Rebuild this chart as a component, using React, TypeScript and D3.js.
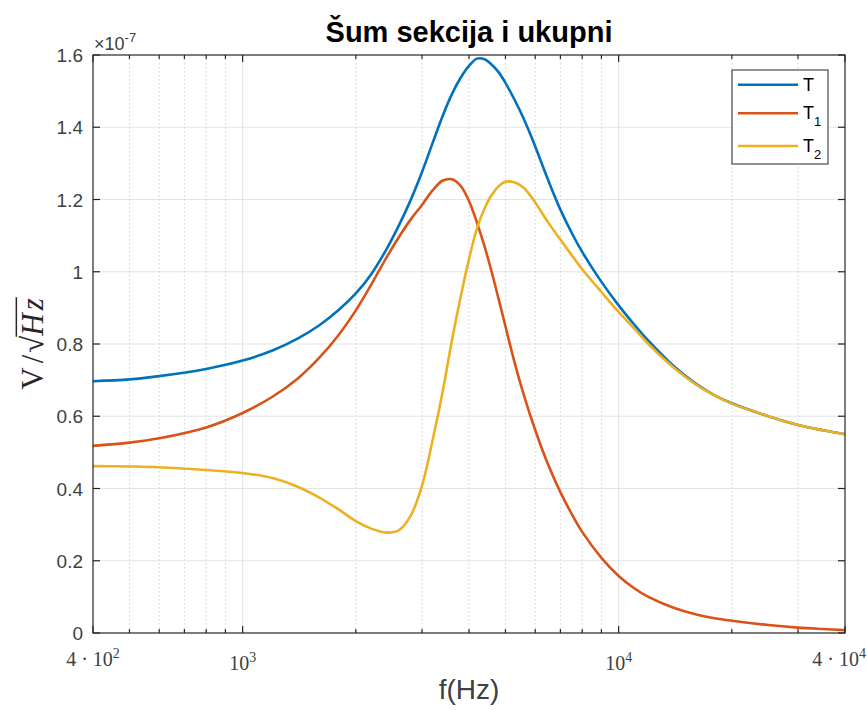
import React, { useLayoutEffect, useRef, useState } from "react";
import * as d3 from "d3";

const freqs = [400, 500, 600, 800, 1000, 1200, 1400, 1600, 1800, 2000, 2200, 2400, 2600, 2800, 3000, 3200, 3400, 3600, 3800, 4000, 4200, 4400, 4600, 4800, 5000, 5300, 5600, 6000, 6500, 7000, 7500, 8000, 9000, 10000, 11000, 12000, 14000, 16000, 18000, 20000, 25000, 30000, 35000, 40000];

const T = [0.697, 0.702, 0.711, 0.731, 0.754, 0.782, 0.815, 0.852, 0.894, 0.94, 0.994, 1.058, 1.127, 1.199, 1.276, 1.356, 1.43, 1.491, 1.537, 1.57, 1.59, 1.588, 1.573, 1.552, 1.523, 1.474, 1.422, 1.347, 1.253, 1.172, 1.108, 1.055, 0.972, 0.907, 0.854, 0.809, 0.739, 0.691, 0.658, 0.636, 0.6, 0.576, 0.561, 0.55];

const T1 = [0.518, 0.527, 0.539, 0.569, 0.609, 0.654, 0.704, 0.762, 0.825, 0.893, 0.965, 1.035, 1.095, 1.145, 1.185, 1.225, 1.252, 1.256, 1.238, 1.196, 1.136, 1.07, 0.998, 0.923, 0.849, 0.745, 0.658, 0.562, 0.465, 0.39, 0.33, 0.28, 0.208, 0.158, 0.124, 0.1, 0.07, 0.052, 0.041, 0.034, 0.022, 0.015, 0.011, 0.008];

const T2 = [0.462, 0.461, 0.459, 0.451, 0.443, 0.429, 0.405, 0.375, 0.342, 0.31, 0.289, 0.278, 0.284, 0.325, 0.408, 0.533, 0.665, 0.808, 0.93, 1.035, 1.12, 1.175, 1.213, 1.237, 1.249, 1.247, 1.232, 1.192, 1.136, 1.089, 1.046, 1.007, 0.944, 0.889, 0.843, 0.8, 0.735, 0.689, 0.657, 0.635, 0.6, 0.576, 0.561, 0.55];

const yTicks = [0, 0.2, 0.4, 0.6, 0.8, 1, 1.2, 1.4, 1.6];
const yTickLabels = ["0", "0.2", "0.4", "0.6", "0.8", "1", "1.2", "1.4", "1.6"];
const xMajor = [400, 1000, 10000, 40000];
const xMinor = [500, 600, 700, 800, 900, 2000, 3000, 4000, 5000, 6000, 7000, 8000, 9000, 20000, 30000];

const seriesNames = ["T", "T1", "T2"];
const colors = ["#0072BD", "#D95319", "#EDB120"];

const W = 867, H = 710;
const L = 93, R = 845, TOP = 55, B = 633;

export default function App() {
  const x = d3.scaleLog().domain([400, 40000]).range([L, R]);
  const y = d3.scaleLinear().domain([0, 1.6]).range([B, TOP]);
  const series = [T, T1, T2];
  const line = d3
    .line<number>()
    .x((_, i) => x(freqs[i]))
    .y((d) => y(d))
    .curve(d3.curveCatmullRom.alpha(0.5));

  const axisColor = "#262626";
  const tickColor = "#404040";
  const serif = "'Liberation Serif', 'DejaVu Serif', serif";
  const sans = "'Liberation Sans', Arial, Helvetica, sans-serif";

  const legendX = 732, legendY = 70, legendW = 96, legendH = 94;
  const legendRows = [84.7, 113.3, 146];

  const labelRef = useRef<SVGTextElement>(null);
  const [bar, setBar] = useState<{ x1: number; x2: number } | null>(null);
  const labelSize = 31;
  useLayoutEffect(() => {
    const t = labelRef.current;
    if (!t) return;
    try {
      const n = t.getNumberOfChars();
      const sq = t.getExtentOfChar(2);
      const last = t.getExtentOfChar(n - 1);
      setBar({ x1: sq.x + sq.width - 1, x2: last.x + last.width + 1 });
    } catch (e) {
      setBar(null);
    }
  }, []);

  return (
    <svg width={W} height={H} style={{ position: "absolute", left: 0, top: 0, background: "#fff" }}>
      <rect x={0} y={0} width={W} height={H} fill="#fff" />
      {/* grid */}
      {yTicks.slice(1, -1).map((t) => (
        <line key={"gy" + t} x1={L} x2={R} y1={y(t)} y2={y(t)} stroke="#e3e3e3" strokeWidth={1} />
      ))}
      {xMinor.map((f) => (
        <line key={"gmx" + f} x1={x(f)} x2={x(f)} y1={TOP} y2={B} stroke="#cfcfcf" strokeWidth={1} strokeDasharray="1.5,2.5" />
      ))}
      {[1000, 10000].map((f) => (
        <line key={"gx" + f} x1={x(f)} x2={x(f)} y1={TOP} y2={B} stroke="#e0e0e0" strokeWidth={1} />
      ))}
      {/* lines */}
      <defs>
        <clipPath id="clip">
          <rect x={L} y={TOP - 3} width={R - L + 1} height={B - TOP + 4} />
        </clipPath>
      </defs>
      <g clipPath="url(#clip)">
        {series.map((s, i) => (
          <path key={seriesNames[i]} d={line(s) || ""} fill="none" stroke={colors[i]} strokeWidth={2.6} strokeLinejoin="round" />
        ))}
      </g>
      {/* axes box */}
      <rect x={L} y={TOP} width={R - L} height={B - TOP} fill="none" stroke={axisColor} strokeWidth={1.2} />
      {/* y ticks */}
      {yTicks.map((t, i) => (
        <g key={"yt" + t}>
          <line x1={L} x2={L + 7} y1={y(t)} y2={y(t)} stroke={axisColor} strokeWidth={1.2} />
          <line x1={R} x2={R - 7} y1={y(t)} y2={y(t)} stroke={axisColor} strokeWidth={1.2} />
          <text x={L - 10} y={y(t) + 7} textAnchor="end" fontFamily={sans} fontSize={19} fill={tickColor}>
            {yTickLabels[i]}
          </text>
        </g>
      ))}
      {/* x ticks */}
      {xMajor.map((f) => (
        <g key={"xt" + f}>
          <line x1={x(f)} x2={x(f)} y1={B} y2={B - 7} stroke={axisColor} strokeWidth={1.2} />
          <line x1={x(f)} x2={x(f)} y1={TOP} y2={TOP + 7} stroke={axisColor} strokeWidth={1.2} />
        </g>
      ))}
      {xMinor.map((f) => (
        <g key={"xm" + f}>
          <line x1={x(f)} x2={x(f)} y1={B} y2={B - 4} stroke={axisColor} strokeWidth={1.2} />
          <line x1={x(f)} x2={x(f)} y1={TOP} y2={TOP + 4} stroke={axisColor} strokeWidth={1.2} />
        </g>
      ))}
      {/* x tick labels */}
      <text x={x(400)} y={666} textAnchor="middle" fontFamily={serif} fontSize={20} fill={tickColor}>
        4 · 10<tspan fontSize={14} dy={-8}>2</tspan>
      </text>
      <text x={x(1000)} y={670} textAnchor="middle" fontFamily={serif} fontSize={20} fill={tickColor}>
        10<tspan fontSize={14} dy={-8}>3</tspan>
      </text>
      <text x={x(10000)} y={670} textAnchor="middle" fontFamily={serif} fontSize={20} fill={tickColor}>
        10<tspan fontSize={14} dy={-8}>4</tspan>
      </text>
      <text x={866} y={666} textAnchor="end" fontFamily={serif} fontSize={20} fill={tickColor}>
        4 · 10<tspan fontSize={14} dy={-8}>4</tspan>
      </text>
      {/* exponent */}
      <text x={94} y={50} fontFamily={sans} fontSize={18} fill={tickColor}>
        ×10<tspan fontSize={13} dy={-8}>-7</tspan>
      </text>
      {/* title */}
      <text x={(L + R) / 2} y={42} textAnchor="middle" fontFamily={sans} fontWeight="bold" fontSize={29} fill="#000">
        Šum sekcija i ukupni
      </text>
      {/* x label */}
      <text x={(L + R) / 2} y={699} textAnchor="middle" fontFamily={sans} fontSize={28} fill={tickColor}>
        f(Hz)
      </text>
      {/* y label */}
      <g transform={`translate(43, ${(TOP + B) / 2}) rotate(-90)`}>
        <text ref={labelRef} x={0} y={0} textAnchor="middle" fontFamily={serif} fontSize={labelSize} fill="#262626">
          V<tspan dx={4}>/</tspan><tspan dx={2}>√</tspan><tspan fontStyle="italic">H</tspan><tspan fontStyle="italic" dx={3}>z</tspan>
        </text>
        {bar ? (
          <line x1={bar.x1} x2={bar.x2} y1={-labelSize * 0.86} y2={-labelSize * 0.86} stroke="#262626" strokeWidth={1.5} />
        ) : null}
      </g>
      {/* legend */}
      <rect x={legendX} y={legendY} width={legendW} height={legendH} fill="#fff" stroke={axisColor} strokeWidth={1} />
      {legendRows.map((ry, i) => (
        <g key={"lg" + i}>
          <line x1={738} x2={798} y1={ry} y2={ry} stroke={colors[i]} strokeWidth={2.6} />
          <text x={803} y={ry + 6} fontFamily={sans} fontSize={18} fill="#000">
            T
            {i > 0 ? (
              <tspan fontSize={13} dy={7}>
                {String(i)}
              </tspan>
            ) : null}
          </text>
        </g>
      ))}
    </svg>
  );
}
